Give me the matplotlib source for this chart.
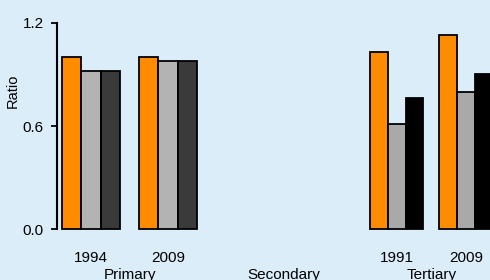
import numpy as np
import matplotlib
matplotlib.use("Agg")
import matplotlib.pyplot as plt

plt.rcParams["font.family"] = ["Liberation Sans", "DejaVu Sans"]

# datos
levels = ["Primary", "Secondary", "Tertiary"]

primary_years = ["1994", "2009"]
primary_orange = [1.00, 1.00]
primary_gray = [0.92, 0.98]
primary_dark = [0.92, 0.975]

secondary_years = []

tertiary_years = ["1991", "2009"]
tertiary_orange = [1.03, 1.13]
tertiary_gray = [0.61, 0.80]
tertiary_dark = [0.76, 0.90]

bg = "#dbedf8"

# layout (unidades = pixeles)
W, H = 490, 280
x0 = 57
y_bottom = 50.7
y_height = 206.6
panel_center = [129.5, 284, 431.4]
group_sep = [77, None, 69]
bar_w = [19.5, None, 17.7]

fig = plt.figure(figsize=(W / 100, H / 100), dpi=100, facecolor=bg)
ax = fig.add_axes([x0 / W, y_bottom / H, (W - x0) / W, y_height / H])
ax.set_facecolor(bg)
ax.set_xlim(x0, W)
ax.set_ylim(0, 1.2)

panels = [
    (primary_years, [primary_orange, primary_gray, primary_dark],
     ["#ff8c00", "#b3b3b3", "#3a3a3a"]),
    (secondary_years, [], []),
    (tertiary_years, [tertiary_orange, tertiary_gray, tertiary_dark],
     ["#ff8c00", "#a9a9a9", "#000000"]),
]

ticks = []
tick_labels = []
for p, (yrs, series, colors) in enumerate(panels):
    if len(yrs) == 0:
        continue
    n = len(yrs)
    centers = panel_center[p] + (np.arange(n) - (n - 1) / 2) * group_sep[p]
    w = bar_w[p]
    for s, (vals, col) in enumerate(zip(series, colors)):
        xs = centers + (s - 1) * w
        ax.bar(xs, vals, width=w, color=col, edgecolor="black",
               linewidth=1.3, clip_on=False)
    ticks += list(centers)
    tick_labels += yrs

ax.set_xticks(ticks)
ax.set_xticklabels(tick_labels, fontsize=11)
ax.tick_params(axis="x", length=0, pad=15.5)

ax.set_yticks([0.0, 0.6, 1.2])
ax.set_yticklabels(["0.0", "0.6", "1.2"], fontsize=11)
ax.tick_params(axis="y", length=4, width=1.3, pad=5.5, direction="out")

for side in ["top", "right", "bottom"]:
    ax.spines[side].set_visible(False)
ax.spines["left"].set_bounds(0, 1.2)
ax.spines["left"].set_linewidth(1.5)

for p, name in enumerate(levels):
    fig.text(panel_center[p] / W, 1.5 / H, name, ha="center", va="baseline",
             fontsize=11)

fig.text(12.5 / W, (H - 91) / H, "Ratio", rotation=90, ha="center",
         va="center", fontsize=10.5)

fig.savefig("out.png", dpi=100, facecolor=bg)
